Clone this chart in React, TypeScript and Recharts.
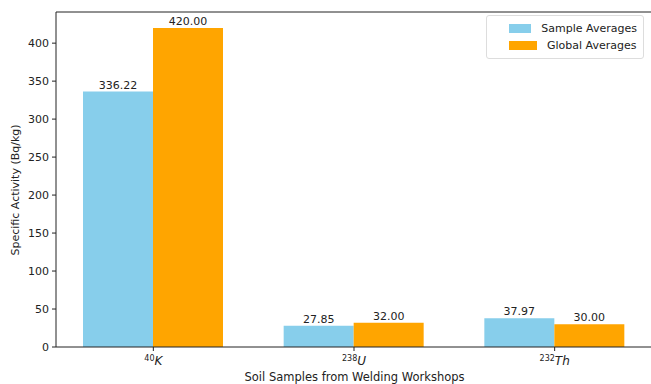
import { Bar, BarChart, LabelList, ReferenceLine, XAxis, YAxis } from 'recharts'

const isotopes = ['K', 'U', 'Th']
const massNumbers = ['40', '238', '232']
const sampleAverages = [336.22, 27.85, 37.97]
const globalAverages = [420.0, 32.0, 30.0]
const yTicks = [0, 50, 100, 150, 200, 250, 300, 350, 400]

const data = isotopes.map((name, i) => ({
  name,
  mass: massNumbers[i],
  sample: sampleAverages[i],
  global: globalAverages[i]
}))

const font = 'DejaVu Sans, sans-serif'
const ink = '#222'

const IsotopeTick = (props: any) => {
  const { x, y, payload, index } = props
  return (
    <text x={x} y={y + 12} textAnchor="middle" fontFamily={font} fill={ink}>
      <tspan fontSize={8} dy={-4}>{massNumbers[index] ?? ''}</tspan>
      <tspan fontSize={12} fontStyle="italic" dy={4}>{payload.value}</tspan>
    </text>
  )
}

const LegendBox = () => (
  <div
    style={{
      position: 'absolute',
      left: 486,
      top: 15,
      width: 158,
      boxSizing: 'border-box',
      border: '1px solid #ddd',
      borderRadius: 3,
      background: '#fff',
      padding: '4px 6px 4px 22px',
      fontFamily: font,
      fontSize: 11,
      color: ink,
      lineHeight: '17px',
      whiteSpace: 'nowrap'
    }}
  >
    {[
      ['#87CEEB', 'Sample Averages'],
      ['#FFA500', 'Global Averages']
    ].map(([c, t]) => (
      <div key={t} style={{ display: 'flex', alignItems: 'center' }}>
        <span style={{ width: 28, height: 9, background: c, marginRight: 10, display: 'inline-block' }} />
        {t}
      </div>
    ))}
  </div>
)

const App = () => {
  return (
    <div style={{ position: 'absolute', left: 0, top: 0, width: 651, height: 384, overflow: 'hidden', background: '#fff' }}>
      <BarChart
        width={660}
        height={384}
        data={data}
        margin={{ top: 12, right: 7, left: 0, bottom: 0 }}
        barGap={0}
        barSize={70}
      >
        <XAxis
          dataKey="name"
          height={37}
          padding={{ left: -3, right: -2 }}
          tick={<IsotopeTick />}
          tickSize={4}
          stroke={ink}
          label={{ value: 'Soil Samples from Welding Workshops', position: 'insideBottom', offset: 3, fill: ink, fontSize: 11.5, fontFamily: font }}
        />
        <YAxis
          width={56}
          domain={[0, 441]}
          ticks={yTicks}
          allowDataOverflow
          tickSize={4}
          tickMargin={3}
          stroke={ink}
          tick={{ fill: ink, fontSize: 11, fontFamily: font }}
          label={{ value: 'Specific Activity (Bq/kg)', angle: -90, position: 'insideLeft', offset: 15, dy: 76, fill: ink, fontSize: 11, fontFamily: font }}
        />
        <ReferenceLine y={441} stroke={ink} />
        <Bar dataKey="sample" fill="#87CEEB" isAnimationActive={false}>
          <LabelList dataKey="sample" position="top" offset={3} formatter={(v: any) => Number(v).toFixed(2)} fill={ink} fontSize={11} fontFamily={font} />
        </Bar>
        <Bar dataKey="global" fill="#FFA500" isAnimationActive={false}>
          <LabelList dataKey="global" position="top" offset={3} formatter={(v: any) => Number(v).toFixed(2)} fill={ink} fontSize={11} fontFamily={font} />
        </Bar>
      </BarChart>
      <LegendBox />
    </div>
  )
}

export default App
